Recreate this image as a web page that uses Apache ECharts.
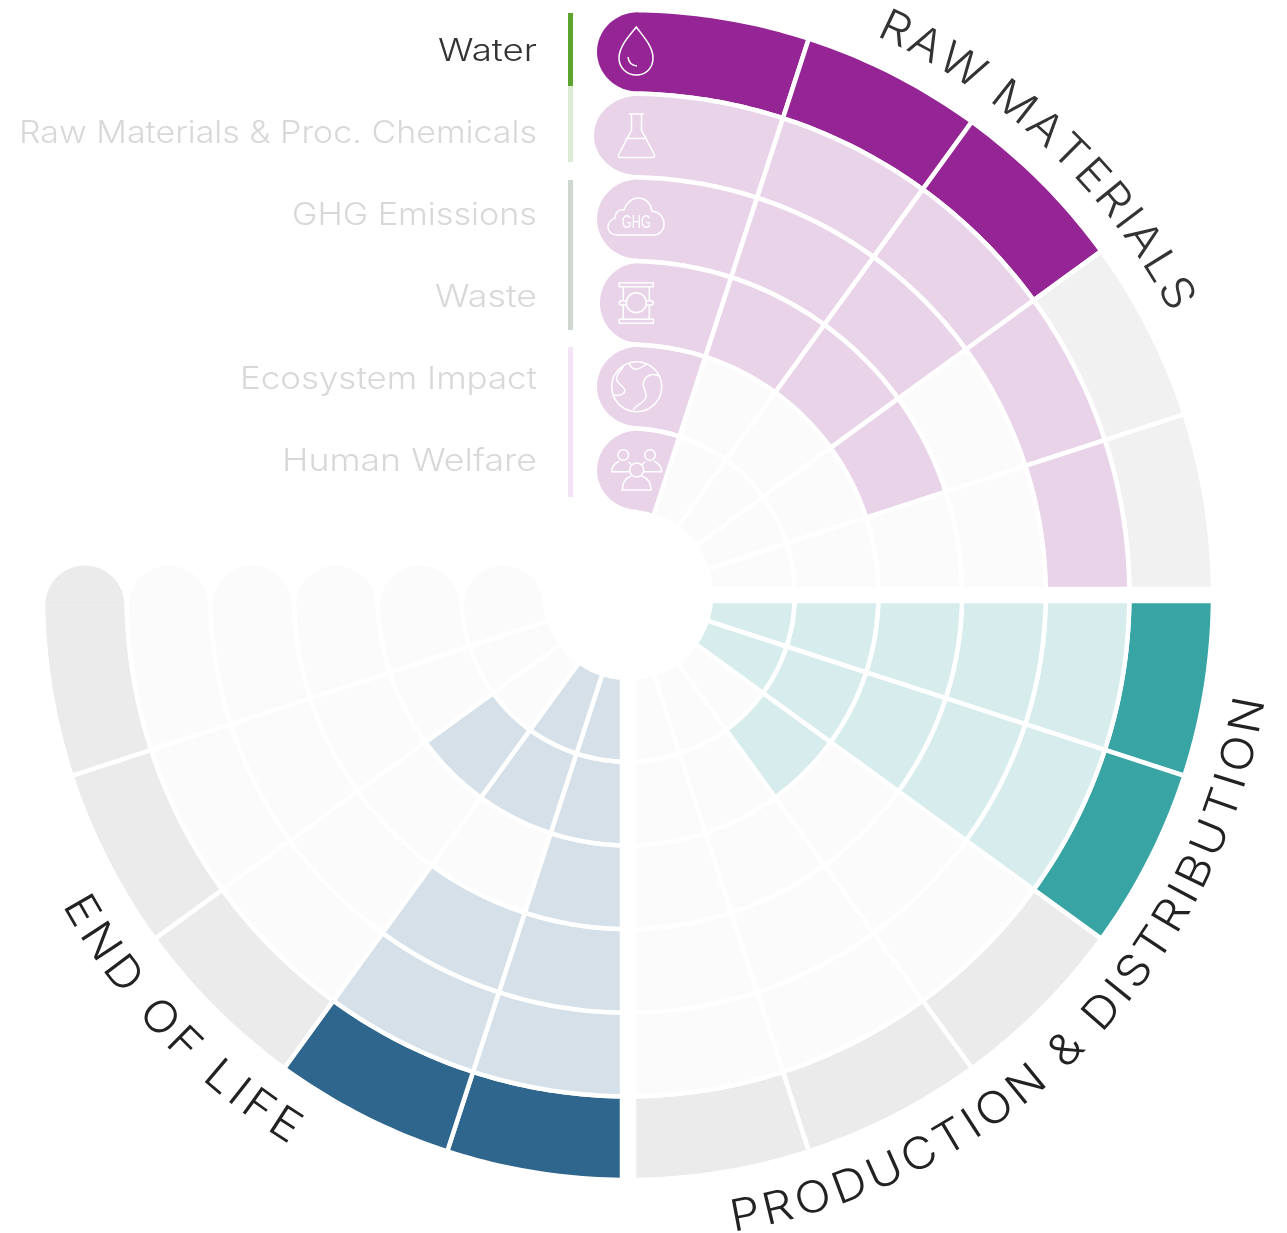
<!DOCTYPE html>
<html lang="en">
<head>
  <meta charset="UTF-8">
  <title>lifecycle impact wheel</title>
  <style>html,body{margin:0;padding:0;background:#fff}</style>
</head>
<body>
  <div id="main" style="width:1287px;height:1233px;"></div>
  <script src="https://cdn.jsdelivr.net/npm/echarts@6/dist/echarts.min.js"></script>
  <script>
  var rows = ['Water', 'Raw Materials & Proc. Chemicals', 'GHG Emissions', 'Waste', 'Ecosystem Impact', 'Human Welfare']
  var stages = ['Raw 1', 'Raw 2', 'Raw 3', 'Raw 4', 'Raw 5',
    'Prod 1', 'Prod 2', 'Prod 3', 'Prod 4', 'Prod 5',
    'End 1', 'End 2', 'End 3', 'End 4', 'End 5',
    '', ' ', '  ', '   ', '    ']
  // 0 blank, 1 light, 2 dark, 3 grey. one line per row, outer ring first
  var rawMaterials = [
    [2, 2, 2, 3, 3],
    [1, 1, 1, 1, 1],
    [1, 1, 1, 0, 0],
    [1, 1, 1, 1, 0],
    [1, 0, 0, 0, 0],
    [1, 0, 0, 0, 0]
  ]
  var production = [
    [2, 2, 3, 3, 3],
    [1, 1, 0, 0, 0],
    [1, 1, 0, 0, 0],
    [1, 1, 0, 0, 0],
    [1, 1, 1, 0, 0],
    [1, 1, 0, 0, 0]
  ]
  var endOfLife = [
    [2, 2, 3, 3, 3],
    [1, 1, 0, 0, 0],
    [1, 1, 0, 0, 0],
    [1, 0, 0, 0, 0],
    [1, 1, 1, 0, 0],
    [1, 1, 0, 0, 0]
  ]

  var cx = 628, cy = 595
  var palettes = [
    ['#fbfbfb', '#e9d3e9', '#952494', '#f1f1f1'],
    ['#fbfbfb', '#d7eced', '#38a4a4', '#ebebeb'],
    ['#fbfbfb', '#d5e0e9', '#2f668e', '#ebebeb']
  ]
  // quadrant limits, the white stroke eats 2px more
  var bounds = [
    {xMin: 635, yMax: 589},
    {xMin: 634, yMin: 601},
    {xMax: 622, yMin: 603}
  ]
  var rawCapRx = [41, 44, 41, 38, 41, 41]
  var legendWidths = [99, 518, 245, 102, 297, 255]

  var cells = []
  ;[rawMaterials, production, endOfLife].forEach(function (block, q) {
    block.forEach(function (line, r) {
      line.forEach(function (state, c) {
        cells.push([r, q * 5 + c, state, q, c])
      })
    })
  })

  function limit(p, b) {
    return [
      Math.min(Math.max(p[0], b.xMin === undefined ? -1e4 : b.xMin), b.xMax === undefined ? 1e4 : b.xMax),
      Math.min(Math.max(p[1], b.yMin === undefined ? -1e4 : b.yMin), b.yMax === undefined ? 1e4 : b.yMax)
    ]
  }

  // half ellipse, from angle a over half a turn
  function halfCap(x, y, rx, ry, a, color) {
    var pts = []
    for (var i = 0; i <= 32; i++) {
      var t = a + Math.PI * i / 32
      pts.push([x + rx * Math.cos(t), y + ry * Math.sin(t)])
    }
    return {type: 'polygon', shape: {points: pts}, style: {fill: color}}
  }

  function renderCell(params, api) {
    var r = api.value(0), a = api.value(1), state = api.value(2), q = api.value(3), c = api.value(4)
    var sys = params.coordSys
    var p = api.coord([r, a])
    var size = api.size([1, 1], [r, a])
    var mid = Math.sqrt(Math.pow(p[0] - sys.cx, 2) + Math.pow(p[1] - sys.cy, 2))
    var th = Math.atan2(p[1] - sys.cy, p[0] - sys.cx)
    var r0 = mid - size[0] / 2, r1 = mid + size[0] / 2
    var a0 = th - size[1] / 2, a1 = th + size[1] / 2
    var pts = [], i, t
    for (i = 0; i <= 24; i++) {
      t = a0 + (a1 - a0) * i / 24
      pts.push(limit([sys.cx + r1 * Math.cos(t), sys.cy + r1 * Math.sin(t)], bounds[q]))
    }
    for (i = 24; i >= 0; i--) {
      t = a0 + (a1 - a0) * i / 24
      pts.push(limit([sys.cx + r0 * Math.cos(t), sys.cy + r0 * Math.sin(t)], bounds[q]))
    }
    var color = palettes[q][state]
    var children = [{
      type: 'polygon',
      shape: {points: pts},
      style: {fill: color, stroke: '#fff', lineWidth: 4.5}
    }]
    if (q === 0 && c === 0) children.push(halfCap(638, sys.cy - mid, rawCapRx[r], 39.6, Math.PI / 2, color))
    if (q === 2 && c === 4) children.push(halfCap(sys.cx - mid, 605.5, 39.6, 40, Math.PI, color))
    return {type: 'group', children: children}
  }

  var ctx = document.createElement('canvas').getContext('2d')

  // legend
  var graphics = []
  var legendFont = '300 31px Inter, sans-serif'
  ctx.font = legendFont
  rows.forEach(function (name, i) {
    graphics.push({
      type: 'text',
      x: 537, y: 52 + i * 82, scaleX: legendWidths[i] / ctx.measureText(name).width,
      style: {
        x: 0, y: 0, text: name, align: 'right', verticalAlign: 'middle',
        fill: i === 0 ? '#333333' : '#d8d8d8',
        font: legendFont
      }
    })
  })
  var legendBars = [
    [13, 86, '#5da32e'], [86, 162, '#dcebd5'], [180, 330, '#cfd8d0'], [347, 497, '#f4e2f7']
  ]
  legendBars.forEach(function (b) {
    graphics.push({type: 'rect', shape: {x: 568, y: b[0], width: 5, height: b[1] - b[0]}, style: {fill: b[2]}})
  })

  // icons
  var iconPaths = [
    'M636.3 27C630 35 619 46 619 58C619 68 627 75 636.3 75C646 75 653 68 653 58C653 46 642 35 636.3 27ZM628 57C628.5 62 632 65.5 637 66',
    'M629 114H644M631.5 114V130L618.5 155Q618 157.5 620 157.5H653Q655 157.5 654.5 155L641.5 130V114M625.5 138.5H647',
    'M617 235C611 235 608 231 608 227C608 222 612 219 615 218C615 212 620 209 624 210C626 203 632 198 638 198C646 198 651 204 652 211C659 212 664 217 664 224C664 231 659 235 653 235Z',
    'M619.3 282.7H653.3V286.7H619.3ZM619.3 319.3H653.3V323.3H619.3ZM623.3 286.7V300.7M649.3 286.7V300.7M623.3 305V319.3M649.3 305V319.3M626.3 302.7A10 10 0 1 0 646.3 302.7A10 10 0 1 0 626.3 302.7ZM626.3 300.7H621.5A2.1 2.1 0 0 0 621.5 305H626.3M646.3 300.7H651.1A2.1 2.1 0 0 1 651.1 305H646.3',
    'M611.7 386.7A25 25 0 1 0 661.7 386.7A25 25 0 1 0 611.7 386.7ZM623.3 366.7C619 372 615 377 617.3 381C619 385 625 387 625 391C624 395 618 396 613.3 395M629.3 363.3C630 366 632 369.3 636 369.3C641 369.3 644 364 648.3 364M660 376.7C657 375 653 374 650 375C645 377 643 381 643.3 385C644 389 646.5 393 646 397C645 403 635 405 633.3 410',
    'M618 455A5.3 5.3 0 1 0 628.6 455A5.3 5.3 0 1 0 618 455ZM644.7 455A5.3 5.3 0 1 0 655.3 455A5.3 5.3 0 1 0 644.7 455ZM629.7 470A7 7 0 1 0 643.7 470A7 7 0 1 0 629.7 470ZM619.3 461C615 463 611.7 467 611.7 471.7H629M654 461C658 463 661.7 467 661.7 471.7H644M631 476C626 478 622.3 483 622.3 490H651C651 483 647 478 642 476M628.3 461.7L631.7 465M645 461.7L641.7 465'
  ]
  iconPaths.forEach(function (d, i) {
    echarts.graphic.registerShape('icon' + i, echarts.graphic.extendPath(d))
    graphics.push({
      type: 'icon' + i, z: 10,
      style: {fill: null, stroke: '#fff', lineWidth: 1.5}
    })
  })
  var ghgFont = '18px "Liberation Sans", sans-serif'
  ctx.font = ghgFont
  graphics.push({
    type: 'text', z: 10,
    x: 636.3, y: 223, scaleX: 29 / ctx.measureText('GHG').width,
    style: {x: 0, y: 0, text: 'GHG', align: 'center', verticalAlign: 'middle', fill: '#fff', font: ghgFont}
  })

  // arc titles, one text per letter
  var titleFont = '300 44px Inter, sans-serif'
  var titleStretch = 1.08
  function placeTitle(text, first, last, radius, bottom, color) {
    ctx.font = titleFont
    var centers = [], pos = 0, i, w
    for (i = 0; i < text.length; i++) {
      w = ctx.measureText(text[i]).width * titleStretch
      centers.push(pos + w / 2)
      pos += w
    }
    var extra = ((last - first) * Math.PI / 180 * radius - (centers[text.length - 1] - centers[0])) / (text.length - 1)
    for (i = 0; i < text.length; i++) {
      if (text[i] === ' ') continue
      var ang = first * Math.PI / 180 + (centers[i] - centers[0] + extra * i) / radius
      graphics.push({
        type: 'text',
        x: cx + radius * Math.sin(ang),
        y: bottom ? cy + radius * Math.cos(ang) : cy - radius * Math.cos(ang),
        rotation: bottom ? ang : -ang,
        scaleX: titleStretch,
        style: {text: text[i], x: 0, y: 0, align: 'center', verticalAlign: 'middle', fill: color, font: titleFont}
      })
    }
  }
  placeTitle('RAW MATERIALS', 25.3, 61.2, 625, false, '#333333')
  placeTitle('PRODUCTION & DISTRIBUTION', 10.7, 79, 632, true, '#222222')
  placeTitle('END OF LIFE', -60, -32.9, 632, true, '#222222')

  var myChart = echarts.init(document.getElementById('main'))
  var option = {
    animation: false,
    polar: {center: [cx, cy], radius: [83, 585]},
    angleAxis: {
      type: 'category', data: stages, startAngle: 90,
      axisLine: {show: false}, axisTick: {show: false}, axisLabel: {show: false}, splitLine: {show: false}
    },
    radiusAxis: {
      type: 'category', data: rows, inverse: true,
      axisLine: {show: false}, axisTick: {show: false}, axisLabel: {show: false}, splitLine: {show: false}
    },
    series: [{
      type: 'custom',
      coordinateSystem: 'polar',
      renderItem: renderCell,
      encode: {radius: 0, angle: 1},
      data: cells
    }],
    graphic: {elements: graphics}
  }
  myChart.setOption(option)
  </script>
</body>
</html>
